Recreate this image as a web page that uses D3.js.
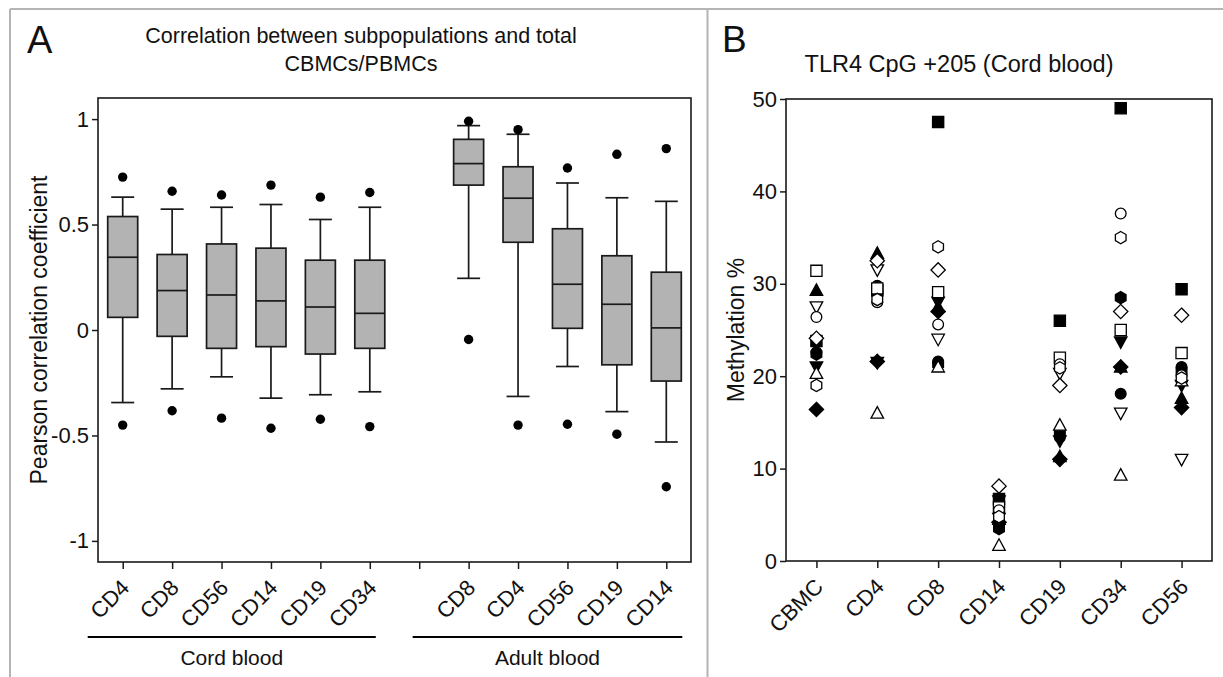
<!DOCTYPE html>
<html><head><meta charset="utf-8">
<script src="https://cdn.jsdelivr.net/npm/d3@7"></script>
<style>body{margin:0;background:#fff;} text{font-family:"Liberation Sans",Arial,sans-serif;fill:#111;}</style>
</head><body><svg id="c" width="1223" height="677"></svg>
<script>
// ---------- Panel A data ----------
const aCategories = ["CD4","CD8","CD56","CD14","CD19","CD34","","CD8","CD4","CD56","CD19","CD14"];
const aGroupLabels = ["Cord blood","Adult blood"];
const aGroupMembers = [[0,5],[7,11]];
const aWhiskerHigh = [0.63, 0.573, 0.582, 0.595, 0.524, 0.582, null, 0.969, 0.928, 0.697, 0.627, 0.61];
const aQ3          = [0.538,0.358, 0.408, 0.388, 0.331, 0.331, null, 0.904, 0.774, 0.48, 0.352, 0.274];
const aMedian      = [0.345,0.187, 0.166, 0.138, 0.109, 0.079, null, 0.789, 0.625, 0.217, 0.122, 0.01];
const aQ1          = [0.06,-0.03,-0.087,-0.079,-0.114,-0.087, null, 0.687, 0.416, 0.008,-0.165,-0.242];
const aWhiskerLow  = [-0.344,-0.279,-0.222,-0.323,-0.307,-0.293, null, 0.245,-0.315,-0.173,-0.387,-0.531];
const aOutlierHigh = [0.725,0.658, 0.64, 0.687, 0.63, 0.652, null, 0.99, 0.95, 0.768, 0.833, 0.86];
const aOutlierLow  = [-0.451,-0.383,-0.418,-0.466,-0.423,-0.458, null,-0.045,-0.451,-0.447,-0.494,-0.743];
const aYTicks = [-1,-0.5,0,0.5,1];
const aYTickLabels = ["-1","-0.5","0","0.5","1"];

// ---------- Panel B data (CBMC, CD4, CD8, CD14, CD19, CD34, CD56) ----------
const bCategories = ["CBMC","CD4","CD8","CD14","CD19","CD34","CD56"];
const bYTicks = [0,10,20,30,40,50];
const openSquare    = [31.4, 29.5, 29.1, 5.8, 22.0, 25.0, 22.5];
const filledSquare  = [23.8, 29.3, 47.5, 6.7, 26.0, 49.0, 29.4];
const openTriUp     = [20.3, 16.0, 21.0, 1.7, 14.7, 9.3, 19.5];
const filledTriUp   = [29.3, 33.3, 27.5, 4.5, 11.3, 21.0, 17.6];
const openTriDown   = [27.5, 31.5, 24.0, 4.6, 20.3, 16.0, 11.0];
const filledTriDown = [21.0, 21.5, 28.0, 6.5, 13.0, 23.7, 19.0];
const openDiamond   = [24.1, 32.5, 31.5, 8.1, 19.0, 27.0, 26.6];
const filledDiamond = [16.4, 21.6, 27.0, 4.2, 11.0, 21.0, 16.6];
const openCircle    = [26.4, 28.0, 25.6, 5.5, 21.3, 37.6, 20.1];
const filledCircle  = [22.6, 29.8, 21.6, 3.9, 13.4, 18.1, 21.0];
const openHex       = [19.0, 28.3, 34.0, 4.8, 20.9, 35.0, 19.8];
const filledHex     = [22.4, 29.0, 21.3, 3.5, 13.8, 28.5, 20.6];

const svg = d3.select("#c");
const INK = "#1a1a1a";

// ---------- outer frame ----------
const frame = svg.append("g").attr("stroke","#b4b4b4").attr("stroke-width",2);
frame.append("line").attr("x1",10).attr("x2",1223).attr("y1",9).attr("y2",9);
frame.append("line").attr("x1",10).attr("x2",10).attr("y1",9).attr("y2",677);
frame.append("line").attr("x1",707.5).attr("x2",707.5).attr("y1",9).attr("y2",677);

// ================= PANEL A =================
const aL = 98, aR = 691, aT = 98, aB = 562;
const ax = d3.scalePoint().domain(d3.range(aCategories.length)).range([aL,aR]).padding(0.5);
const ay = d3.scaleLinear().domain([-1.1,1.1]).range([aB,aT]);
const gA = svg.append("g");

gA.append("text").attr("x",27).attr("y",53).attr("font-size",38).text("A");
gA.append("text").attr("x",361).attr("y",43).attr("text-anchor","middle").attr("font-size",21.5).text("Correlation between subpopulations and total");
gA.append("text").attr("x",361).attr("y",71).attr("text-anchor","middle").attr("font-size",21.5).text("CBMCs/PBMCs");

gA.append("rect").attr("x",aL).attr("y",aT).attr("width",aR-aL).attr("height",aB-aT)
  .attr("fill","none").attr("stroke",INK).attr("stroke-width",1.6);

const yAxA = gA.append("g").attr("transform",`translate(${aL},0)`)
  .call(d3.axisLeft(ay).tickValues(aYTicks).tickFormat((d,i)=>aYTickLabels[i]).tickSize(6).tickPadding(3).tickSizeOuter(0));
yAxA.select(".domain").remove();
yAxA.selectAll("line").attr("stroke",INK).attr("stroke-width",1.5);
yAxA.selectAll("text").attr("font-size",22).attr("fill","#111");

const xAxA = gA.append("g").attr("transform",`translate(0,${aB})`)
  .call(d3.axisBottom(ax).tickFormat(()=>"").tickSize(7).tickSizeOuter(0));
xAxA.select(".domain").remove();
xAxA.selectAll("line").attr("stroke",INK).attr("stroke-width",1.5);
aCategories.forEach((c,i)=>{
  if(!c) return;
  gA.append("text").attr("transform",`translate(${ax(i)+8},${aB+27}) rotate(-45)`)
    .attr("text-anchor","end").attr("font-size",22).text(c);
});

// boxes
const boxW = 30, capW = 23;
const boxes = gA.append("g").attr("stroke",INK).attr("stroke-width",1.7);
aCategories.forEach((c,i)=>{
  if(aMedian[i]==null) return;
  const x = ax(i);
  boxes.append("line").attr("x1",x).attr("x2",x).attr("y1",ay(aWhiskerHigh[i])).attr("y2",ay(aQ3[i]));
  boxes.append("line").attr("x1",x).attr("x2",x).attr("y1",ay(aQ1[i])).attr("y2",ay(aWhiskerLow[i]));
  boxes.append("line").attr("x1",x-capW/2).attr("x2",x+capW/2).attr("y1",ay(aWhiskerHigh[i])).attr("y2",ay(aWhiskerHigh[i]));
  boxes.append("line").attr("x1",x-capW/2).attr("x2",x+capW/2).attr("y1",ay(aWhiskerLow[i])).attr("y2",ay(aWhiskerLow[i]));
  boxes.append("rect").attr("x",x-boxW/2).attr("width",boxW).attr("y",ay(aQ3[i])).attr("height",ay(aQ1[i])-ay(aQ3[i]))
    .attr("fill","#b3b3b3");
  boxes.append("line").attr("x1",x-boxW/2).attr("x2",x+boxW/2).attr("y1",ay(aMedian[i])).attr("y2",ay(aMedian[i]));
  [aOutlierHigh[i],aOutlierLow[i]].forEach(v=>{
    gA.append("circle").attr("cx",x).attr("cy",ay(v)).attr("r",4.7).attr("fill","#000");
  });
});

// group lines
const groupExt = [[-35,6],[-56,16]];
aGroupLabels.forEach((lab,k)=>{
  const [i0,i1] = aGroupMembers[k];
  const x0 = ax(i0)+groupExt[k][0], x1 = ax(i1)+groupExt[k][1];
  gA.append("line").attr("x1",x0).attr("x2",x1).attr("y1",637).attr("y2",637).attr("stroke","#000").attr("stroke-width",2);
  gA.append("text").attr("x",(x0+x1)/2).attr("y",665).attr("text-anchor","middle").attr("font-size",21).text(lab);
});

// y label A
gA.append("text").attr("transform",`translate(47,${(aT+aB)/2}) rotate(-90)`).attr("text-anchor","middle")
  .attr("font-size",23).text("Pearson correlation coefficient");

// ================= PANEL B =================
const bL = 786, bR = 1212, bT = 99, bB = 561;
const bx = d3.scalePoint().domain(bCategories).range([bL,bR]).padding(0.5);
const by = d3.scaleLinear().domain([0,50]).range([bB,bT]);
const gB = svg.append("g");

gB.append("text").attr("x",722).attr("y",52).attr("font-size",37).text("B");
gB.append("text").attr("x",959).attr("y",72).attr("text-anchor","middle").attr("font-size",23.5).text("TLR4 CpG +205 (Cord blood)");

gB.append("rect").attr("x",bL).attr("y",bT).attr("width",bR-bL).attr("height",bB-bT)
  .attr("fill","none").attr("stroke",INK).attr("stroke-width",1.6);

const yAxB = gB.append("g").attr("transform",`translate(${bL},0)`)
  .call(d3.axisLeft(by).tickValues(bYTicks).tickFormat(d3.format("d")).tickSize(6).tickPadding(3).tickSizeOuter(0));
yAxB.select(".domain").remove();
yAxB.selectAll("line").attr("stroke",INK).attr("stroke-width",1.5);
yAxB.selectAll("text").attr("font-size",22).attr("fill","#111");

const xAxB = gB.append("g").attr("transform",`translate(0,${bB})`)
  .call(d3.axisBottom(bx).tickFormat(()=>"").tickSize(7).tickSizeOuter(0));
xAxB.select(".domain").remove();
xAxB.selectAll("line").attr("stroke",INK).attr("stroke-width",1.5);
bCategories.forEach(c=>{
  gB.append("text").attr("transform",`translate(${bx(c)+8},${bB+27}) rotate(-45)`)
    .attr("text-anchor","end").attr("font-size",22).text(c);
});

gB.append("text").attr("transform",`translate(744,${(bT+bB)/2}) rotate(-90)`).attr("text-anchor","middle")
  .attr("font-size",23).text("Methylation %");

// custom symbol types (size = side^2)
const symSquare = {draw(ctx,size){const h=Math.sqrt(size)/2; ctx.rect(-h,-h,2*h,2*h);}};
const symTriUp = {draw(ctx,size){const s=Math.sqrt(size); ctx.moveTo(0,-s*0.58); ctx.lineTo(s*0.56,s*0.45); ctx.lineTo(-s*0.56,s*0.45); ctx.closePath();}};
const symTriDown = {draw(ctx,size){const s=Math.sqrt(size); ctx.moveTo(0,s*0.58); ctx.lineTo(s*0.56,-s*0.45); ctx.lineTo(-s*0.56,-s*0.45); ctx.closePath();}};
const symDiamond = {draw(ctx,size){const h=Math.sqrt(size)*0.64; ctx.moveTo(0,-h); ctx.lineTo(h,0); ctx.lineTo(0,h); ctx.lineTo(-h,0); ctx.closePath();}};
const symCircle = {draw(ctx,size){const r=Math.sqrt(size)*0.48; ctx.moveTo(r,0); ctx.arc(0,0,r,0,2*Math.PI);}};
const symHex = {draw(ctx,size){const r=Math.sqrt(size)*0.55; for(let k=0;k<6;k++){const a=-Math.PI/2+k*Math.PI/3; const px=r*Math.cos(a), py=r*Math.sin(a); if(k===0) ctx.moveTo(px,py); else ctx.lineTo(px,py);} ctx.closePath();}};

const series = [
  {v:filledSquare, t:symSquare, f:true},
  {v:filledTriUp, t:symTriUp, f:true},
  {v:filledTriDown, t:symTriDown, f:true},
  {v:filledDiamond, t:symDiamond, f:true},
  {v:filledCircle, t:symCircle, f:true},
  {v:filledHex, t:symHex, f:true},
  {v:openSquare, t:symSquare, f:false},
  {v:openTriUp, t:symTriUp, f:false},
  {v:openTriDown, t:symTriDown, f:false},
  {v:openDiamond, t:symDiamond, f:false},
  {v:openCircle, t:symCircle, f:false},
  {v:openHex, t:symHex, f:false}
];
const pts = gB.append("g");
series.forEach(s=>{
  const sym = d3.symbol().type(s.t).size(125);
  pts.selectAll(null).data(s.v).enter().append("path")
    .attr("d",sym)
    .attr("transform",(d,i)=>`translate(${bx(bCategories[i])},${by(d)})`)
    .attr("fill", s.f ? "#000" : "#fff")
    .attr("stroke","#000").attr("stroke-width",1.3);
});
</script></body></html>
